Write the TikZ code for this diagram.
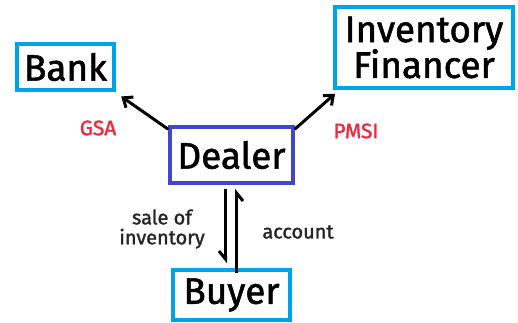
\documentclass[tikz,border=0pt]{standalone}
\usepackage{fontspec}
\setmainfont{Fira Sans}
\newfontfamily\medfont{Fira Sans}[FakeBold=1.5]
\usetikzlibrary{arrows.meta}
\definecolor{boxblue}{RGB}{0,162,232}
\definecolor{dealerblue}{RGB}{63,72,204}
\definecolor{labelred}{RGB}{240,40,60}
\tikzset{
  party/.style={draw=boxblue, line width=3.5bp, inner sep=0pt, align=center,
    font=\medfont\fontsize{37}{37}\selectfont},
  flow/.style={line width=3bp, -{Straight Barb[length=8bp, width=13bp, line width=3bp]}},
  half/.style={line width=3bp, -{Straight Barb[length=8bp, width=13bp, line width=3bp, harpoon, swap]}},
  redlabel/.style={text=labelred, font=\medfont\fontsize{21}{21}\selectfont},
  blacklabel/.style={text=black!85, font=\medfont\fontsize{20}{20}\selectfont, align=center},
}
\begin{document}
\begin{tikzpicture}[x=1bp, y=-1bp]
  \useasboundingbox (0,0) rectangle (518,322);
  \fill[white] (0,0) rectangle (518,322);

  % parties
  \node[party, minimum width=97bp, minimum height=46bp] (bank) at (65.5,67) {Bank};
  \node[party, minimum width=178bp, minimum height=81bp] (fin) at (424,47.5)
    {Inventory\\[-1bp]Financer};
  \node[party, draw=dealerblue, minimum width=123bp, minimum height=56bp] (dealer) at (231.5,155) {Dealer};
  \node[party, minimum width=117bp, minimum height=50bp] (buyer) at (231.5,295) {Buyer};

  % security interests
  \draw[flow, shorten >=3bp] ([yshift=-4bp]dealer.north west) -- ([xshift=3bp,yshift=-3bp]bank.south east);
  \draw[flow, shorten >=3bp] ([yshift=-4bp]dealer.north east) -- ([xshift=4bp,yshift=-2bp]fin.south west);

  % sale and account
  \draw[half] ([xshift=-6bp,yshift=-4bp]dealer.south) -- ([xshift=-6bp,yshift=5bp]buyer.north);
  \draw[half] ([xshift=5bp,yshift=-5bp]buyer.north) -- ([xshift=5bp,yshift=-4bp]dealer.south);

  % labels
  \node[redlabel] (gsa) at (98,128) {GSA};
  \node[redlabel] (pmsi) at (356,131) {PMSI};
  \node[blacklabel] (sale) at (162,229) {sale of\\inventory};
  \node[blacklabel] (acct) at (298,232) {account};
\end{tikzpicture}
\end{document}
